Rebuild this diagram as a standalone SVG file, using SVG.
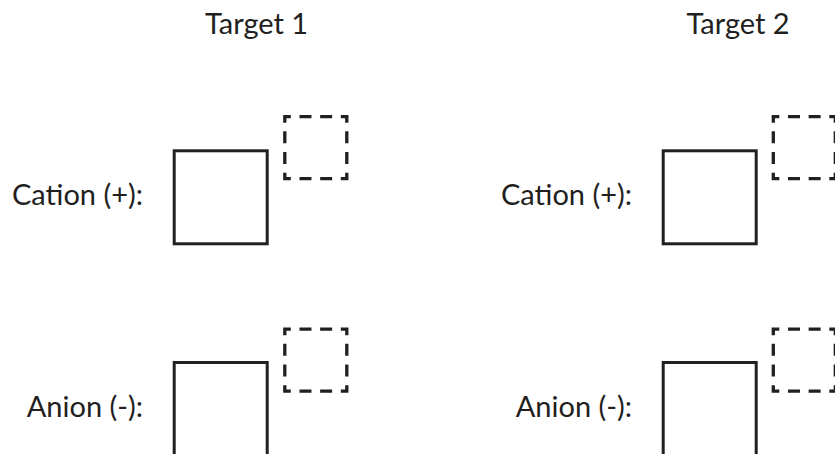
<svg xmlns="http://www.w3.org/2000/svg" width="835" height="454" viewBox="0 0 835 454">
<style>
text{font-family:"Lato","Noto Sans",sans-serif;font-size:29px;fill:#231f20}
.box{fill:none;stroke:#231f20;stroke-width:3}
.slot{fill:none;stroke:#231f20;stroke-width:3.3;stroke-dasharray:12 8.667;stroke-dashoffset:6}
</style>
<rect width="835" height="454" fill="#fff"/>
<g id="title1"><text x="256.5" y="33.5" text-anchor="middle">Target 1</text></g>
<g id="title2"><text x="738" y="33.5" text-anchor="middle">Target 2</text></g>
<g id="cation1">
<text x="143" y="204.5" text-anchor="end">Cation (+):</text>
<rect class="box" x="174.2" y="150.8" width="93" height="93"/>
<rect class="slot" x="284.8" y="116.7" width="62" height="62"/>
</g>
<g id="anion1">
<text x="143" y="416.5" text-anchor="end">Anion (-):</text>
<rect class="box" x="174.2" y="362.5" width="93" height="93"/>
<rect class="slot" x="284.8" y="329.2" width="62" height="62"/>
</g>
<g id="cation2">
<text x="632" y="204.5" text-anchor="end">Cation (+):</text>
<rect class="box" x="663.2" y="150.8" width="93" height="93"/>
<rect class="slot" x="773.3" y="116.7" width="62" height="62"/>
</g>
<g id="anion2">
<text x="632" y="416.5" text-anchor="end">Anion (-):</text>
<rect class="box" x="663.2" y="362.5" width="93" height="93"/>
<rect class="slot" x="773.3" y="329.2" width="62" height="62"/>
</g>
<g id="connectors"/>
</svg>
